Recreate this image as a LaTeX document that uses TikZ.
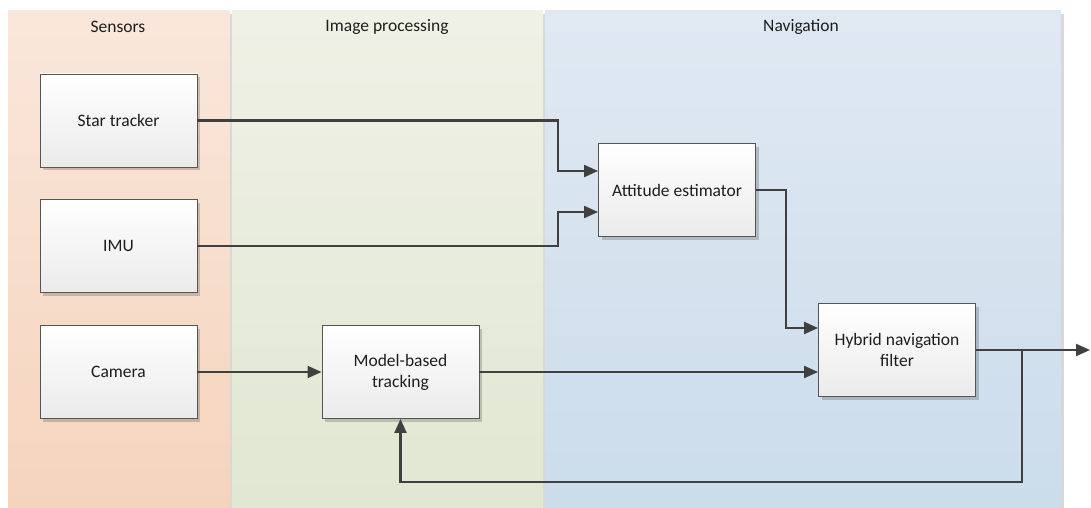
\documentclass[tikz,border=0pt]{standalone}
\usepackage{fontspec}
\setmainfont{Carlito}
\usetikzlibrary{arrows.meta,shadows,calc}
\definecolor{sensT}{HTML}{FAE7DB}
\definecolor{sensB}{HTML}{F5D4BD}
\definecolor{imgT}{HTML}{EFF1E6}
\definecolor{imgB}{HTML}{E1E7D2}
\definecolor{navT}{HTML}{E0E9F2}
\definecolor{navB}{HTML}{CBDCEB}
\definecolor{laneshadow}{HTML}{D8D8D6}
\definecolor{linec}{HTML}{404040}
\definecolor{boxborder}{HTML}{555555}
\definecolor{txt}{HTML}{1E1E1E}
\tikzset{
  blockbox/.style={draw=boxborder, line width=0.9pt, top color=white, bottom color=black!8,
    minimum width=157pt, minimum height=93pt, align=center, text=txt,
    font=\fontsize{17.5}{21}\selectfont,
    drop shadow={shadow xshift=3pt, shadow yshift=-3pt, opacity=0.18, fill=black}},
  lanetitle/.style={text=txt, font=\fontsize{17.5}{21}\selectfont},
  arr/.style={draw=linec, line width=2.1pt, -{Triangle[length=14pt,width=12pt]}},
  ln/.style={draw=linec, line width=2.1pt}
}
\begin{document}
\begin{tikzpicture}[x=1pt,y=-1pt]
\useasboundingbox (0,0) rectangle (1091,508);
% lanes
\fill[laneshadow] (11,14) rectangle (232,508);
\shade[top color=sensT, bottom color=sensB] (8,11) rectangle (229.5,508);
\fill[laneshadow] (235,14) rectangle (545.5,508);
\shade[top color=imgT, bottom color=imgB] (232,11) rectangle (543,508);
\fill[laneshadow] (548,14) rectangle (1064,508);
\shade[top color=navT, bottom color=navB] (545,11) rectangle (1061,508);
\node[lanetitle] (tsens) at (118,27) {Sensors};
\node[lanetitle] (timg) at (387,27) {Image processing};
\node[lanetitle] (tnav) at (801,27) {Navigation};
% blocks
\node[blockbox] (star) at (118.5,120.5) {Star tracker};
\node[blockbox] (imu) at (118.5,246) {IMU};
\node[blockbox] (cam) at (118.5,372) {Camera};
\node[blockbox] (mbt) at (400.5,372) {Model-based\\tracking};
\node[blockbox] (att) at (677,190) {Attitude estimator};
\node[blockbox] (hyb) at (897,350) {Hybrid navigation\\filter};
% connectors
\draw[arr] (star.east) -| ([xshift=-40pt,yshift=19pt]att.west) -- ([yshift=19pt]att.west);
\draw[arr] (imu.east) -| ([xshift=-40pt,yshift=-22pt]att.west) -- ([yshift=-22pt]att.west);
\draw[arr] (att.east) -| ([xshift=-32pt,yshift=22pt]hyb.west) -- ([yshift=22pt]hyb.west);
\draw[arr] (cam.east) -- (mbt.west);
\draw[arr] (mbt.east) -- (mbt.east -| hyb.west);
\coordinate (out) at (1090,350);
\coordinate (br) at (1022,350);
\coordinate (fb) at (1022,482);
\draw[arr] (hyb.east) -- (out);
\draw[arr] (br) -- (fb) -| (mbt.south);
\end{tikzpicture}
\end{document}
